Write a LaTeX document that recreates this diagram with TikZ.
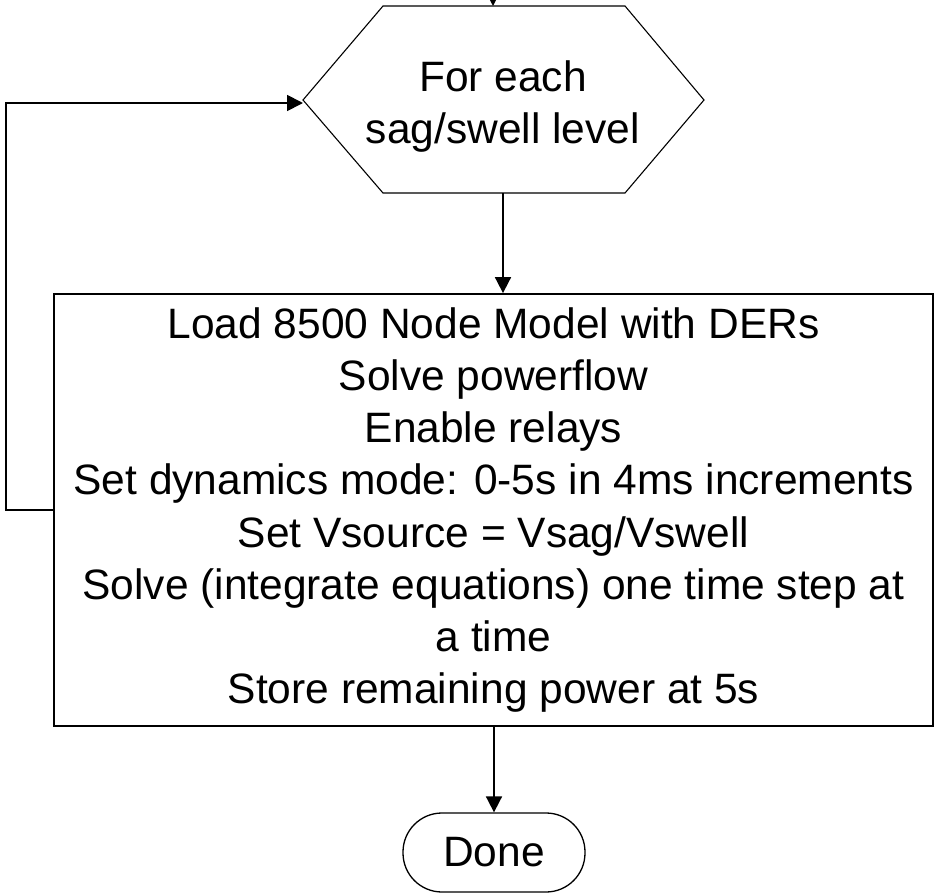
\documentclass[tikz,border=0pt]{standalone}
\usepackage{fontspec}
\setmainfont{Liberation Sans}
\usetikzlibrary{arrows.meta}
\begin{document}
\begin{tikzpicture}[x=1pt,y=-1pt,
  line width=1.8pt,
  conn/.style={-{Triangle[length=16pt,width=16pt]}},
  txt/.style={font=\fontsize{42.5}{52}\selectfont, align=center, inner sep=0pt},
  procbox/.style={draw, rectangle, minimum width=879pt, minimum height=432pt, inner sep=0pt, font=\fontsize{42.5}{52.2}\selectfont, align=center},
  donebox/.style={draw, line width=1.3pt, rounded corners=39pt, minimum width=182pt, minimum height=79pt, inner sep=0pt, font=\fontsize{42.5}{52}\selectfont}
]
\useasboundingbox (0,0) rectangle (935,894);
\clip (0,0) rectangle (935,894);
% hexagon
\coordinate (hL) at (303,100);
\coordinate (hTL) at (383,6);
\coordinate (hTR) at (625,6);
\coordinate (hR) at (704,100);
\coordinate (hBR) at (625,193);
\coordinate (hBL) at (383,193);
\draw[line width=1.1pt, line join=miter] (hL) -- (hTL) -- (hTR) -- (hR) -- (hBR) -- (hBL) -- cycle;
\node[txt] (hex) at (503,107) {For each\\sag/swell level};
\coordinate (hexTop) at (493,6);
\coordinate (hexBot) at (503,193);
\coordinate (hexIn) at (303,103);
\coordinate (start) at (493,-30);
% process box
\node[procbox] (proc) at (493.5,510) {Load 8500 Node Model with DERs\\Solve powerflow\\Enable relays\\Set dynamics mode: 0-5s in 4ms increments\\Set Vsource = Vsag/Vswell\\Solve (integrate equations) one time step at\\a time\\Store remaining power at 5s};
% done
\node[donebox] (done) at (494,852.5) {\raisebox{-3pt}{Done}};
% connectors
\draw[conn] (start) -- (hexTop);
\draw[conn] (hexBot) -- (hexBot |- proc.north);
\draw[conn] (proc.south -| done.north) -- (done.north);
\coordinate (loopL) at (6,510);
\draw[conn] (proc.west |- loopL) -- (loopL) |- (hexIn);
\end{tikzpicture}
\end{document}
